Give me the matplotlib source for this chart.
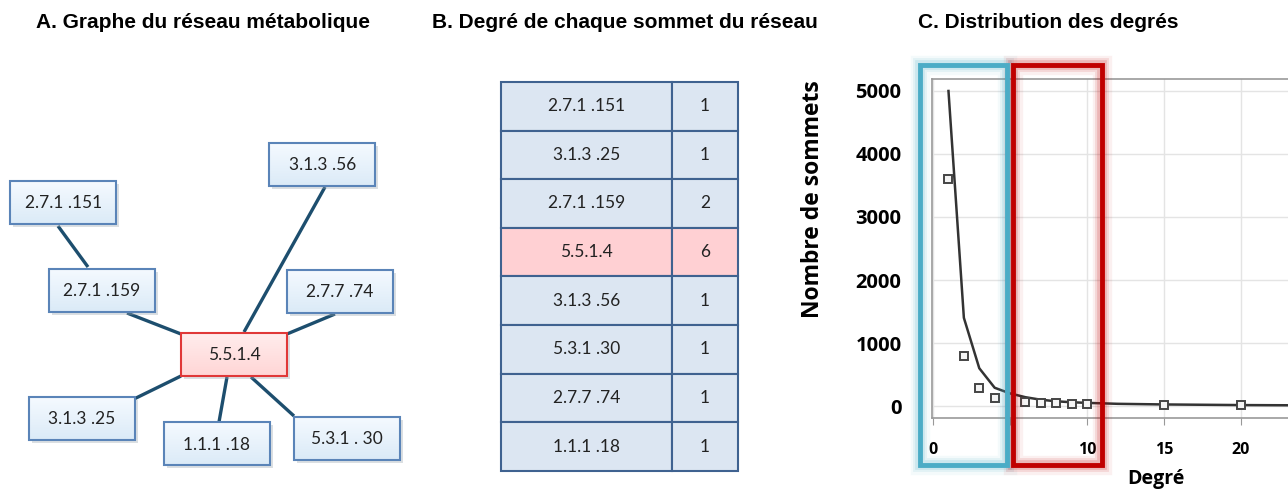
import numpy as np
import matplotlib.pyplot as plt
from matplotlib.patches import Rectangle

# --- data -------------------------------------------------------------
# panel A: nodes of the metabolic graph (label, centre x, centre y in px)
node_labels = ["2.7.1 .151", "3.1.3 .56", "2.7.1 .159", "2.7.7 .74",
               "5.5.1.4", "3.1.3 .25", "1.1.1 .18", "5.3.1 . 30"]
node_cx = [63.5, 322.5, 102, 340, 234, 82, 217, 347]
node_cy = [202.5, 164.5, 290, 291, 354, 418.5, 443.5, 438]
hub = "5.5.1.4"
# edges as (x0, y0, x1, y1) anchor points on the boxes
edge_lines = [(58, 226, 88, 267), (127, 313, 181, 334), (325, 187, 244, 332),
              (335, 314, 287, 334), (134, 399, 181, 376), (219, 422, 227, 377),
              (294, 416, 251, 377)]

# panel B: degree table
table_names = ["2.7.1 .151", "3.1.3 .25", "2.7.1 .159", "5.5.1.4",
               "3.1.3 .56", "5.3.1 .30", "2.7.7 .74", "1.1.1 .18"]
table_degrees = [1, 1, 2, 6, 1, 1, 1, 1]

# panel C: degree distribution
obs_degree = [1, 2, 3, 4, 6, 7, 8, 9, 10, 15, 20]
obs_count = [3600, 800, 290, 130, 60, 55, 45, 40, 35, 20, 20]
fit_degree = [1, 2, 3, 4, 5, 6, 7, 8, 9, 10, 12, 15, 20, 23]
fit_count = [5000, 1400, 600, 290, 200, 140, 100, 75, 60, 50, 35, 25, 15, 12]

W, H = 1288, 491
fig = plt.figure(figsize=(W / 100, H / 100), dpi=100)
title_kw = dict(family="Liberation Sans", weight="bold", fontsize=15)
box_font = dict(family="Lato", fontsize=12.5, color="#222222")

# --- panel C: real axes ----------------------------------------------
ax = fig.add_axes([932 / W, 1 - 418 / H, (W - 932) / W, (418 - 79) / H])
ax.plot(fit_degree, fit_count, color="#333333", lw=1.8, zorder=3)
ax.plot(obs_degree, obs_count, ls="none", marker="s", ms=6, mfc="#f4f4f4",
        mec="#444444", mew=1.4, zorder=4)
ax.set_xlim(-0.07, 23.05)
ax.set_ylim(-190, 5190)
ax.set_xticks([0, 5, 10, 15, 20])
ax.set_xticklabels(["0", "", "10", "15", "20"])
ax.set_yticks([0, 1000, 2000, 3000, 4000, 5000])
ax.grid(True, color="#e4e4e4", lw=1)
ax.set_axisbelow(True)
for s in ["left", "bottom", "top"]:
    ax.spines[s].set_color("#999999")
    ax.spines[s].set_linewidth(1.2)
ax.spines["right"].set_visible(False)
ax.tick_params(axis="x", length=5, color="#999999", pad=12, labelsize=11.5)
ax.tick_params(axis="y", length=0, pad=22, labelsize=14.5)
for lab in ax.get_xticklabels() + ax.get_yticklabels():
    lab.set_family("Open Sans")
    lab.set_weight("bold")
ax.set_ylabel("Nombre de sommets", family="Open Sans", weight="bold",
              fontsize=16.5)
ax.yaxis.set_label_coords(-0.3, 0.646)

# --- overlay in pixel coordinates -----------------------------------
ov = fig.add_axes([0, 0, 1, 1], facecolor="none")
ov.set_xlim(0, W)
ov.set_ylim(H, 0)
ov.axis("off")

ov.text(203, 22, "A. Graphe du réseau métabolique", ha="center", va="center", **title_kw)
ov.text(625, 22, "B. Degré de chaque sommet du réseau", ha="center", va="center", **title_kw)
ov.text(1048, 22, "C. Distribution des degrés", ha="center", va="center", **title_kw)
ov.text(1156, 479, "Degré", ha="center", va="center", family="Open Sans",
        weight="bold", fontsize=14)

# panel A edges and nodes
for x0, y0, x1, y1 in edge_lines:
    ov.plot([x0, x1], [y0, y1], color="#1d4e6e", lw=2.4, solid_capstyle="butt", zorder=2)

bw, bh = 106, 43
grad = np.linspace(0, 1, 32).reshape(-1, 1)
for lab, cx, cy in zip(node_labels, node_cx, node_cy):
    x0, y0 = cx - bw / 2, cy - bh / 2
    if lab == hub:
        top, bot, ec = np.array([1.0, 0.93, 0.93]), np.array([1.0, 0.84, 0.84]), "#e03838"
    else:
        top, bot, ec = np.array([0.96, 0.98, 1.0]), np.array([0.86, 0.92, 0.97]), "#5a84b8"
    ov.add_patch(Rectangle((x0 + 3, y0 + 3), bw, bh, fc="#9aa4ad", ec="none",
                           alpha=0.35, zorder=3))
    img = top + (bot - top) * grad[:, :, None]
    ov.imshow(img, extent=(x0, x0 + bw, y0 + bh, y0), aspect="auto", zorder=4)
    ov.add_patch(Rectangle((x0, y0), bw, bh, fill=False, ec=ec, lw=1.5, zorder=4.5))
    ov.text(cx, cy + 1, lab, ha="center", va="center", zorder=5, **box_font)
ov.set_xlim(0, W)
ov.set_ylim(H, 0)

# panel B table
tx0, tx1, tx2 = 501, 672, 738
ty0, rh = 82, 48.6
for i, (name, deg) in enumerate(zip(table_names, table_degrees)):
    y = ty0 + i * rh
    fc = "#ffd0d3" if name == hub else "#dce6f2"
    ov.add_patch(Rectangle((tx0, y), tx1 - tx0, rh, fc=fc, ec="#3f6290", lw=1.5, zorder=3))
    ov.add_patch(Rectangle((tx1, y), tx2 - tx1, rh, fc=fc, ec="#3f6290", lw=1.5, zorder=3))
    ov.text((tx0 + tx1) / 2, y + rh / 2, name, ha="center", va="center", zorder=4, **box_font)
    ov.text((tx1 + tx2) / 2, y + rh / 2, str(deg), ha="center", va="center", zorder=4, **box_font)

# highlight frames over panel C (with a soft glow)
frames = [((920, 65, 1007, 465), "#4bacc6"), ((1013, 65, 1102, 465), "#c00000")]
for (x0, y0, x1, y1), col in frames:
    for lw, a in [(14, 0.06), (10, 0.1), (7, 0.15)]:
        ov.add_patch(Rectangle((x0, y0), x1 - x0, y1 - y0, fill=False, ec=col,
                               lw=lw, alpha=a, zorder=6))
    ov.add_patch(Rectangle((x0, y0), x1 - x0, y1 - y0, fill=False, ec=col,
                           lw=3.5, zorder=7))

fig.savefig("out.png", dpi=100)
